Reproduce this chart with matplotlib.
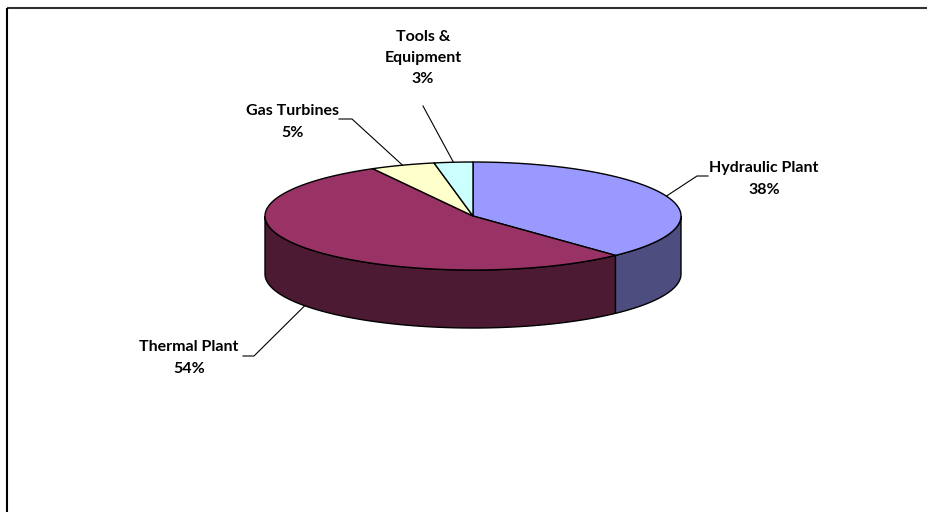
import numpy as np
import matplotlib.pyplot as plt
from matplotlib.patches import Polygon

# cost share by plant category (percent)
labels = ["Hydraulic Plant", "Thermal Plant", "Gas Turbines", "Tools &\nEquipment"]
values = [38, 54, 5, 3]

top_colors = ["#9999FF", "#993366", "#FFFFCC", "#CCFFFF"]
side_colors = ["#4D4D80", "#4D1A33", "#80805F", "#5F8080"]

# pie geometry in pixels
cx, cy = 473, 216
rx, ry = 208, 54
depth = 58

# label anchors: (text x, text y, elbow x, elbow y, shelf x)
label_pos = [
    (764, 179, 697, 176, 708),
    (189, 358, 254, 356, 243),
    (293, 122, 352, 119, 339),
    (423, 58, 423, 106, 423),
]


def ell(theta, dy=0):
    t = np.radians(theta)
    return cx + rx * np.cos(t), cy - ry * np.sin(t) + dy


fig = plt.figure(figsize=(9.27, 5.12), dpi=100)
ax = fig.add_axes([0, 0, 1, 1])
ax.set_xlim(0, 927)
ax.set_ylim(512, 0)
ax.axis("off")

# slice angle ranges, clockwise from 12 o'clock
fracs = np.array(values) / np.sum(values)
starts = 90 - 360 * np.concatenate([[0], np.cumsum(fracs)[:-1]])
ends = starts - 360 * fracs

# side walls (front half only)
for s, e, c in zip(starts, ends, side_colors):
    a, b = max(e, -180), min(s, 0)
    if a >= b:
        continue
    th = np.linspace(a, b, 120)
    xt, yt = ell(th)
    xb, yb = ell(th[::-1], depth)
    pts = np.column_stack([np.r_[xt, xb], np.r_[yt, yb]])
    ax.add_patch(Polygon(pts, closed=True, fc=c, ec="black", lw=1.0, zorder=2))

# top face
for s, e, c in zip(starts, ends, top_colors):
    th = np.linspace(s, e, 200)
    xt, yt = ell(th)
    pts = np.column_stack([np.r_[cx, xt], np.r_[cy, yt]])
    ax.add_patch(Polygon(pts, closed=True, fc=c, ec="black", lw=1.0, zorder=3))

# labels with leader lines
for i, (lab, v) in enumerate(zip(labels, values)):
    mid = (starts[i] + ends[i]) / 2
    front = np.sin(np.radians(mid)) < 0
    px, py = ell(mid, depth if front else 0)
    tx, ty, ex, ey, sx = label_pos[i]
    ax.plot([sx, ex, px], [ey, ey, py], color="black", lw=0.8, zorder=4)
    ax.text(tx, ty, f"{lab}\n{v}%", ha="center", va="center", fontsize=11.5,
            fontweight="bold", family="Lato", linespacing=1.65, zorder=5)

# chart area border (top and left)
ax.plot([7, 927], [8, 8], color="#303030", lw=1.5, solid_capstyle="butt")
ax.plot([7, 7], [8, 512], color="black", lw=1.5, solid_capstyle="butt")

fig.savefig("out.png", dpi=100)
